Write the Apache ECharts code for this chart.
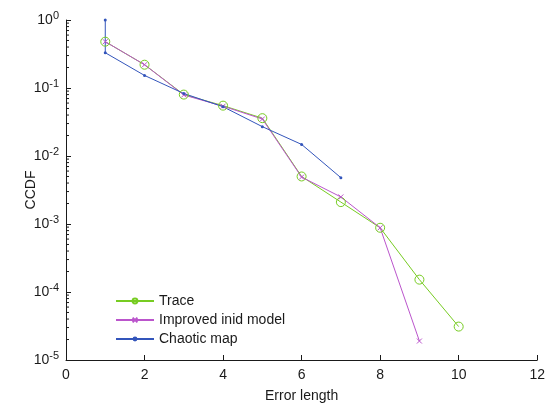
<!DOCTYPE html>
<html>
<head>
<meta charset="utf-8">
<script src="https://cdn.jsdelivr.net/npm/echarts@6/dist/echarts.min.js"></script>
<style>
html,body{margin:0;padding:0;background:#fff;}
#main{width:548px;height:408px;}
</style>
</head>
<body>
<div id="main"></div>
<script>
// values
var traceX = [1, 2, 3, 4, 5, 6, 7, 8, 9, 10];
var traceY = [0.48, 0.22, 0.080, 0.055, 0.036, 0.0050, 0.0021, 0.00088, 0.000152, 0.000031];

var inidX = [1, 2, 3, 4, 5, 6, 7, 8, 9];
var inidY = [0.48, 0.22, 0.079, 0.054, 0.035, 0.0049, 0.0025, 0.00088, 0.000019];

var chaosX = [1, 1, 2, 3, 4, 5, 6, 7];
var chaosY = [1.0, 0.33, 0.153, 0.083, 0.053, 0.027, 0.0148, 0.0048];

var names = ["Trace", "Improved inid model", "Chaotic map"];
var colors = ["#77cc22", "#bb55cc", "#3355bb"];
var decades = [-5, -4, -3, -2, -1];

function pairs(xs, ys) {
    var out = [];
    for (var i = 0; i < xs.length; i++) out.push([xs[i], ys[i]]);
    return out;
}

var font = "Liberation Sans, Arial, Helvetica, sans-serif";
var ink = "#1a1a1a";
var ring = "path://M10,5A5,5,0,1,1,0,5A5,5,0,1,1,10,5Z";
var cross = "path://M0,0L10,10M10,0L0,10";

var option = {
    animation: false,
    backgroundColor: "#fff",
    grid: { left: 66, right: 8, top: 20, bottom: 42 },
    legend: {
        orient: "vertical",
        left: 110,
        top: 289,
        itemWidth: 38,
        itemHeight: 6,
        itemGap: 5,
        textStyle: { fontFamily: font, fontSize: 14, color: ink },
        data: names
    },
    xAxis: {
        type: "value",
        min: 0, max: 12, interval: 2,
        name: "Error length",
        nameLocation: "middle",
        nameGap: 29,
        nameMoveOverlap: false,
        nameTextStyle: { fontFamily: font, fontSize: 14, color: ink },
        axisLine: { lineStyle: { color: ink, width: 1 } },
        axisTick: { inside: true, length: 5, lineStyle: { color: ink } },
        axisLabel: { fontFamily: font, fontSize: 14, color: ink, margin: 8 },
        splitLine: { show: false }
    },
    yAxis: {
        type: "log",
        logBase: 10,
        min: 1e-5, max: 1,
        name: "CCDF",
        nameLocation: "middle",
        nameGap: 28,
        nameMoveOverlap: false,
        nameRotate: 90,
        nameTextStyle: { fontFamily: font, fontSize: 14, color: ink },
        axisLine: { show: true, lineStyle: { color: ink, width: 1 } },
        axisTick: { show: true, inside: true, length: 5, lineStyle: { color: ink } },
        axisLabel: {
            margin: 7,
            formatter: function (v) {
                var e = Math.round(Math.log10(v));
                return "{b|10}{s|" + e + "}";
            },
            rich: {
                b: { fontFamily: font, fontSize: 14, color: ink },
                s: { fontFamily: font, fontSize: 11, color: ink, padding: [0, 0, 9, 0] }
            }
        },
        splitLine: { show: false }
    },
    series: [
        {
            name: names[0], type: "line", data: pairs(traceX, traceY),
            symbol: ring, symbolSize: 9,
            lineStyle: { width: 1, color: colors[0] },
            itemStyle: { borderWidth: 1, borderColor: colors[0], color: "none" }
        },
        {
            name: names[1], type: "line", data: pairs(inidX, inidY),
            symbol: cross, symbolSize: 5,
            lineStyle: { width: 1, color: colors[1] },
            itemStyle: { borderWidth: 1, borderColor: colors[1], color: colors[1] }
        },
        {
            name: names[2], type: "line", data: pairs(chaosX, chaosY),
            symbol: "circle", symbolSize: 3,
            lineStyle: { width: 1, color: colors[2] },
            itemStyle: { color: colors[2] }
        }
    ]
};

var myChart = echarts.init(document.getElementById("main"));
myChart.setOption(option);

// minor log ticks (2..9 in each decade), placed through the axis scale
var ticks = [];
var x0 = myChart.convertToPixel({ xAxisIndex: 0 }, 0);
for (var d = 0; d < decades.length; d++) {
    for (var m = 2; m <= 9; m++) {
        var py = myChart.convertToPixel({ yAxisIndex: 0 }, m * Math.pow(10, decades[d]));
        ticks.push({
            type: "line",
            shape: { x1: x0, y1: py, x2: x0 + 3, y2: py },
            style: { stroke: ink, lineWidth: 1 },
            silent: true
        });
    }
}
myChart.setOption({ graphic: ticks });
</script>
</body>
</html>
